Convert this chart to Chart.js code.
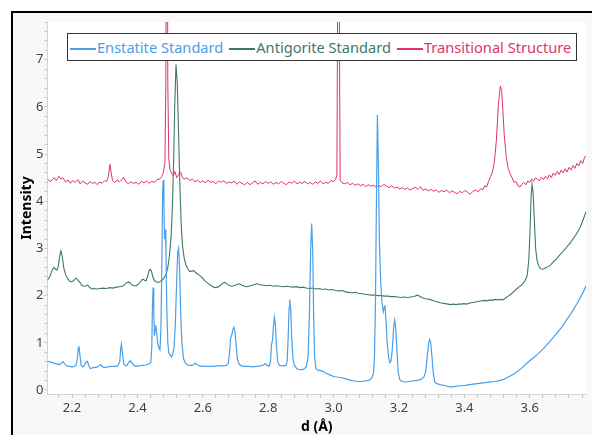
<!DOCTYPE html>
<html lang="en">
<head>
  <meta charset="UTF-8">
  <title>XRD Patterns</title>
  <script src="https://cdn.jsdelivr.net/npm/chart.js@4.4.0/dist/chart.umd.min.js"></script>
  <style>
    body { margin: 0; background: #fff; }
    #frame { position: absolute; left: 11px; top: 11px; width: 581px; height: 424px;
             border-left: 2px solid #000; border-top: 2px solid #000; background: #f8f8f8; }
    #chart { position: absolute; left: 0; top: 0; }
    #legend { position: absolute; left: 67px; top: 33px; width: 508px; height: 26px;
              border: 1px solid #333; background: #fff; font-family: "Noto Sans", sans-serif;
              font-size: 14.6px; line-height: 26px; white-space: nowrap; }
    #legend span.item { margin-left: 6px; }
    #legend span.item:first-child { margin-left: 2px; }
    #legend i { display: inline-block; width: 26px; height: 2px; vertical-align: middle; margin-right: 1px; }
  </style>
</head>
<body>
  <div id="frame"></div>
  <canvas id="chart" width="592" height="435"></canvas>
  <div id="legend"></div>

  <script>
    // series names and colours
    const seriesNames = ['Enstatite Standard', 'Antigorite Standard', 'Transitional Structure'];
    const seriesColors = ['#4a9fe8', '#3d7a66', '#e0336c'];

    // Enstatite Standard: d spacing (Å) and intensity
    const enstatiteD = [2.125,2.135,2.145,2.155,2.163,2.168,2.172,2.177,2.184,2.192,2.200,2.207,2.212,2.216,2.219,2.221,2.224,2.228,2.233,2.238,2.243,2.247,2.251,2.256,2.262,2.270,2.278,2.284,2.288,2.293,2.300,2.310,2.320,2.330,2.340,2.346,2.349,2.351,2.354,2.358,2.363,2.368,2.373,2.378,2.383,2.389,2.396,2.405,2.415,2.425,2.435,2.441,2.444,2.446,2.448,2.450,2.452,2.454,2.456,2.459,2.462,2.466,2.469,2.472,2.475,2.477,2.479,2.481,2.483,2.485,2.487,2.490,2.493,2.496,2.500,2.504,2.508,2.512,2.516,2.520,2.523,2.526,2.529,2.532,2.536,2.541,2.547,2.553,2.560,2.567,2.573,2.577,2.582,2.590,2.600,2.615,2.630,2.645,2.660,2.672,2.678,2.682,2.685,2.688,2.692,2.695,2.698,2.702,2.706,2.711,2.718,2.728,2.740,2.752,2.764,2.776,2.786,2.791,2.796,2.803,2.807,2.810,2.813,2.816,2.819,2.822,2.825,2.829,2.835,2.845,2.854,2.858,2.861,2.864,2.866,2.869,2.872,2.876,2.880,2.888,2.896,2.905,2.912,2.917,2.922,2.926,2.930,2.933,2.936,2.939,2.942,2.946,2.952,2.960,2.968,2.976,2.985,2.995,3.005,3.015,3.025,3.035,3.045,3.055,3.065,3.075,3.085,3.095,3.105,3.112,3.118,3.122,3.125,3.128,3.131,3.134,3.137,3.140,3.144,3.148,3.152,3.155,3.157,3.160,3.164,3.168,3.172,3.176,3.180,3.184,3.187,3.190,3.194,3.198,3.203,3.210,3.220,3.230,3.240,3.250,3.260,3.268,3.276,3.282,3.287,3.291,3.294,3.297,3.301,3.305,3.310,3.318,3.328,3.338,3.348,3.358,3.368,3.378,3.388,3.398,3.410,3.422,3.434,3.446,3.458,3.470,3.482,3.494,3.506,3.518,3.530,3.542,3.554,3.566,3.578,3.590,3.602,3.614,3.626,3.638,3.650,3.662,3.674,3.686,3.698,3.710,3.722,3.734,3.746,3.758,3.770,3.782];
    const enstatiteI = [0.61,0.59,0.57,0.55,0.54,0.57,0.60,0.56,0.51,0.50,0.49,0.50,0.52,0.65,0.88,0.93,0.75,0.52,0.49,0.52,0.60,0.61,0.52,0.45,0.47,0.48,0.49,0.52,0.54,0.49,0.48,0.49,0.50,0.50,0.51,0.60,0.88,0.97,0.80,0.56,0.51,0.52,0.58,0.62,0.58,0.52,0.50,0.51,0.52,0.53,0.55,0.58,0.90,1.80,2.17,1.70,1.15,1.28,1.38,1.20,1.00,0.88,0.85,1.30,2.80,4.20,4.45,3.90,3.20,3.40,3.00,1.70,1.00,0.78,0.75,0.70,0.75,0.90,1.40,2.30,2.90,3.00,2.60,1.70,1.00,0.66,0.57,0.53,0.52,0.52,0.54,0.57,0.54,0.51,0.50,0.50,0.50,0.51,0.51,0.52,0.56,0.80,1.10,1.15,1.28,1.33,1.25,0.95,0.65,0.55,0.51,0.50,0.50,0.49,0.50,0.51,0.53,0.56,0.52,0.51,0.60,0.95,1.05,1.35,1.54,1.40,0.95,0.60,0.52,0.51,0.52,0.60,1.10,1.75,1.92,1.70,1.10,0.65,0.52,0.45,0.43,0.43,0.46,0.50,0.70,1.60,3.00,3.53,3.00,1.60,0.70,0.45,0.42,0.41,0.39,0.36,0.33,0.30,0.28,0.27,0.26,0.24,0.22,0.20,0.19,0.18,0.18,0.19,0.20,0.22,0.27,0.36,0.70,1.80,4.00,5.83,4.80,3.20,2.30,1.85,1.66,1.75,1.80,1.50,1.00,0.70,0.58,0.62,0.90,1.35,1.48,1.30,0.80,0.35,0.21,0.18,0.17,0.18,0.19,0.20,0.21,0.23,0.27,0.40,0.75,1.00,1.07,1.00,0.70,0.35,0.16,0.13,0.11,0.10,0.08,0.06,0.07,0.08,0.09,0.09,0.11,0.12,0.13,0.14,0.15,0.16,0.17,0.18,0.20,0.22,0.26,0.30,0.35,0.41,0.48,0.56,0.63,0.70,0.77,0.85,0.94,1.03,1.13,1.23,1.33,1.46,1.58,1.71,1.85,2.00,2.17,2.34];

    // Antigorite Standard
    const antigoriteD = [2.125,2.132,2.138,2.144,2.150,2.154,2.158,2.162,2.166,2.170,2.175,2.180,2.186,2.192,2.198,2.204,2.209,2.213,2.218,2.224,2.231,2.238,2.244,2.248,2.253,2.260,2.268,2.276,2.285,2.295,2.305,2.315,2.325,2.335,2.345,2.355,2.362,2.368,2.374,2.380,2.388,2.396,2.404,2.410,2.416,2.421,2.426,2.431,2.435,2.439,2.443,2.447,2.452,2.458,2.464,2.470,2.476,2.482,2.488,2.493,2.498,2.503,2.507,2.511,2.514,2.518,2.522,2.526,2.530,2.534,2.538,2.543,2.548,2.554,2.560,2.566,2.572,2.578,2.584,2.590,2.598,2.606,2.614,2.622,2.630,2.638,2.646,2.654,2.662,2.668,2.674,2.682,2.690,2.698,2.706,2.712,2.720,2.728,2.736,2.746,2.756,2.766,2.776,2.786,2.796,2.806,2.816,2.826,2.836,2.846,2.856,2.866,2.876,2.886,2.896,2.906,2.916,2.926,2.936,2.946,2.956,2.966,2.976,2.986,2.996,3.006,3.016,3.026,3.036,3.046,3.056,3.066,3.076,3.086,3.096,3.106,3.116,3.126,3.136,3.146,3.156,3.166,3.176,3.186,3.196,3.206,3.216,3.226,3.236,3.246,3.256,3.262,3.270,3.278,3.286,3.294,3.302,3.310,3.318,3.326,3.334,3.342,3.350,3.358,3.366,3.374,3.382,3.390,3.398,3.406,3.414,3.422,3.430,3.438,3.446,3.454,3.462,3.470,3.478,3.486,3.494,3.502,3.510,3.518,3.526,3.534,3.542,3.550,3.558,3.566,3.574,3.580,3.586,3.592,3.597,3.601,3.604,3.607,3.610,3.614,3.618,3.622,3.628,3.634,3.640,3.646,3.652,3.658,3.664,3.670,3.676,3.682,3.688,3.694,3.700,3.706,3.712,3.718,3.724,3.730,3.736,3.742,3.748,3.754,3.760,3.766,3.772,3.778,3.782];
    const antigoriteI = [2.33,2.40,2.52,2.60,2.56,2.54,2.62,2.82,2.95,2.84,2.58,2.45,2.37,2.31,2.29,2.31,2.35,2.37,2.33,2.28,2.21,2.20,2.21,2.22,2.18,2.14,2.15,2.14,2.15,2.16,2.15,2.17,2.16,2.18,2.19,2.20,2.24,2.28,2.29,2.25,2.21,2.21,2.25,2.30,2.35,2.33,2.31,2.40,2.52,2.56,2.52,2.40,2.32,2.29,2.28,2.30,2.33,2.38,2.46,2.60,2.85,3.25,3.90,4.90,6.00,6.90,6.50,5.40,4.30,3.50,3.05,2.80,2.66,2.57,2.51,2.52,2.53,2.49,2.46,2.43,2.38,2.32,2.27,2.23,2.19,2.17,2.18,2.22,2.27,2.28,2.25,2.21,2.20,2.22,2.24,2.25,2.22,2.20,2.19,2.21,2.23,2.25,2.23,2.22,2.21,2.22,2.20,2.21,2.20,2.19,2.20,2.19,2.18,2.19,2.17,2.18,2.16,2.15,2.16,2.14,2.15,2.13,2.14,2.12,2.13,2.11,2.10,2.11,2.08,2.07,2.06,2.07,2.05,2.04,2.03,2.02,2.01,2.01,2.00,2.00,1.99,1.99,1.98,1.98,1.97,1.96,1.97,1.96,1.97,1.98,2.01,1.99,1.96,1.94,1.93,1.92,1.90,1.88,1.87,1.85,1.84,1.83,1.82,1.81,1.82,1.81,1.82,1.82,1.83,1.82,1.84,1.85,1.86,1.87,1.88,1.89,1.90,1.89,1.91,1.90,1.92,1.91,1.92,1.91,1.95,1.99,2.03,2.08,2.13,2.18,2.22,2.26,2.32,2.42,2.75,3.40,4.10,4.36,4.20,3.60,3.00,2.75,2.62,2.57,2.56,2.58,2.60,2.62,2.65,2.70,2.74,2.78,2.83,2.88,2.92,2.97,3.02,3.07,3.12,3.18,3.24,3.30,3.37,3.45,3.55,3.66,3.78,3.92,3.98];

    // Transitional Structure
    const transitionalD = [2.125,2.135,2.145,2.152,2.160,2.166,2.172,2.180,2.188,2.195,2.202,2.210,2.218,2.225,2.232,2.240,2.248,2.255,2.262,2.270,2.278,2.285,2.292,2.300,2.306,2.311,2.316,2.320,2.324,2.330,2.338,2.345,2.352,2.358,2.364,2.372,2.380,2.388,2.396,2.404,2.412,2.420,2.428,2.436,2.444,2.452,2.460,2.468,2.474,2.479,2.484,2.487,2.490,2.493,2.496,2.500,2.505,2.510,2.515,2.520,2.526,2.532,2.538,2.545,2.552,2.560,2.568,2.576,2.584,2.592,2.600,2.608,2.616,2.624,2.632,2.640,2.648,2.656,2.664,2.672,2.680,2.688,2.696,2.704,2.712,2.720,2.728,2.736,2.744,2.752,2.760,2.768,2.776,2.784,2.792,2.800,2.808,2.816,2.824,2.832,2.840,2.848,2.856,2.864,2.872,2.880,2.888,2.896,2.904,2.912,2.920,2.928,2.936,2.944,2.952,2.960,2.968,2.976,2.984,2.992,3.000,3.006,3.010,3.013,3.015,3.017,3.020,3.026,3.034,3.042,3.050,3.058,3.066,3.074,3.082,3.090,3.098,3.106,3.114,3.122,3.130,3.138,3.146,3.154,3.162,3.170,3.178,3.186,3.194,3.202,3.210,3.218,3.226,3.234,3.242,3.250,3.258,3.266,3.274,3.282,3.290,3.298,3.306,3.314,3.322,3.330,3.338,3.346,3.354,3.362,3.370,3.378,3.386,3.394,3.402,3.410,3.418,3.426,3.434,3.442,3.450,3.456,3.462,3.468,3.474,3.480,3.486,3.492,3.498,3.504,3.510,3.514,3.518,3.522,3.528,3.534,3.540,3.546,3.552,3.558,3.564,3.570,3.576,3.582,3.588,3.594,3.600,3.606,3.612,3.618,3.624,3.630,3.636,3.642,3.648,3.654,3.660,3.666,3.672,3.678,3.684,3.690,3.696,3.702,3.708,3.714,3.720,3.726,3.732,3.738,3.744,3.750,3.756,3.762,3.768,3.774,3.780];
    const transitionalI = [4.46,4.42,4.50,4.44,4.53,4.47,4.50,4.41,4.45,4.38,4.44,4.40,4.46,4.37,4.43,4.39,4.36,4.42,4.38,4.40,4.35,4.41,4.38,4.44,4.42,4.52,4.78,4.60,4.44,4.40,4.45,4.41,4.46,4.51,4.42,4.37,4.41,4.38,4.40,4.36,4.42,4.39,4.43,4.38,4.42,4.40,4.46,4.47,4.52,4.60,4.80,6.50,15.0,6.50,4.90,4.66,4.58,4.55,4.63,4.50,4.57,4.62,4.50,4.47,4.50,4.44,4.47,4.41,4.45,4.40,4.43,4.39,4.45,4.40,4.42,4.37,4.43,4.40,4.44,4.38,4.41,4.39,4.43,4.36,4.41,4.38,4.35,4.40,4.35,4.39,4.43,4.36,4.40,4.37,4.42,4.38,4.41,4.36,4.40,4.37,4.42,4.38,4.35,4.41,4.38,4.43,4.37,4.40,4.38,4.42,4.37,4.40,4.36,4.41,4.38,4.43,4.37,4.40,4.38,4.44,4.42,4.46,4.55,9.00,15.0,9.00,4.45,4.39,4.37,4.40,4.35,4.38,4.34,4.37,4.33,4.36,4.31,4.35,4.32,4.34,4.30,4.33,4.31,4.36,4.32,4.29,4.33,4.28,4.30,4.26,4.29,4.25,4.28,4.24,4.27,4.30,4.25,4.31,4.23,4.26,4.22,4.25,4.21,4.24,4.19,4.23,4.20,4.24,4.18,4.22,4.19,4.16,4.21,4.18,4.23,4.19,4.15,4.21,4.24,4.20,4.27,4.24,4.33,4.30,4.42,4.52,4.62,4.85,5.30,6.05,6.44,6.35,5.90,5.40,4.95,4.70,4.58,4.50,4.40,4.42,4.33,4.30,4.36,4.40,4.35,4.43,4.40,4.47,4.43,4.50,4.46,4.44,4.51,4.46,4.53,4.48,4.56,4.50,4.60,4.55,4.63,4.57,4.66,4.60,4.69,4.62,4.72,4.66,4.76,4.70,4.80,4.75,4.86,4.80,4.94,4.96,4.99];

    // axis ranges
    const xMin = 2.125, xMax = 3.772;
    const yMin = -0.085, yMax = 7.8;

    function toPoints(xs, ys) {
      return xs.map((x, i) => ({ x: x, y: ys[i] }));
    }

    // white plot area
    const plotBackground = {
      id: 'plotBackground',
      beforeDraw(chart) {
        const a = chart.chartArea;
        chart.ctx.save();
        chart.ctx.fillStyle = '#ffffff';
        chart.ctx.fillRect(a.left, a.top, a.right - a.left, a.bottom - a.top);
        chart.ctx.restore();
      }
    };

    const isMajor = (v, step) => Math.abs(v / step - Math.round(v / step)) < 1e-6;
    const tickFont = { family: 'Noto Sans', size: 13 };

    const ctx = document.getElementById('chart').getContext('2d');
    const chart = new Chart(ctx, {
      type: 'line',
      data: {
        datasets: [
          { label: seriesNames[0], data: toPoints(enstatiteD, enstatiteI), borderColor: seriesColors[0], borderWidth: 1.2 },
          { label: seriesNames[1], data: toPoints(antigoriteD, antigoriteI), borderColor: seriesColors[1], borderWidth: 1.1 },
          { label: seriesNames[2], data: toPoints(transitionalD, transitionalI), borderColor: seriesColors[2], borderWidth: 1 }
        ]
      },
      options: {
        responsive: false,
        animation: false,
        elements: { point: { radius: 0 }, line: { tension: 0 } },
        layout: { padding: { left: 13, top: 22, right: 6, bottom: 0 } },
        plugins: { legend: { display: false }, tooltip: { enabled: false } },
        scales: {
          x: {
            type: 'linear', min: xMin, max: xMax,
            afterFit(scale) { scale.height = 41; },
            border: { color: '#d4d4d4' },
            grid: { drawOnChartArea: false, drawTicks: true, tickLength: 4, color: '#c4c4c4' },
            ticks: {
              stepSize: 0.04, includeBounds: false, autoSkip: false, maxRotation: 0, padding: 2,
              color: '#404040', font: tickFont,
              callback: v => isMajor(v, 0.2) ? v.toFixed(1) : ''
            },
            title: { display: true, text: 'd (Å)', color: '#000', padding: { top: 0, bottom: 0 },
                     font: { family: 'Noto Sans', size: 14, weight: 'bold' } }
          },
          y: {
            type: 'linear', min: yMin, max: yMax,
            afterFit(scale) { scale.width = 34.5; },
            border: { color: '#d4d4d4' },
            grid: { drawOnChartArea: false, drawTicks: true, tickLength: 3, color: '#c4c4c4' },
            ticks: {
              stepSize: 0.2, includeBounds: false, autoSkip: false, padding: 1,
              color: '#404040', font: tickFont,
              callback: v => isMajor(v, 1) ? Math.round(v).toString() : ''
            },
            title: { display: true, text: 'Intensity', color: '#000', padding: { top: 6, bottom: 0 },
                     font: { family: 'Noto Sans', size: 14, weight: 'bold' } }
          }
        }
      },
      plugins: [plotBackground]
    });

    // legend row inside the plot
    const legend = document.getElementById('legend');
    legend.innerHTML = seriesNames.map((name, i) =>
      '<span class="item"><i style="background:' + seriesColors[i] + '"></i><span style="color:' +
      seriesColors[i] + '">' + name + '</span></span>').join('');
  </script>
</body>
</html>
